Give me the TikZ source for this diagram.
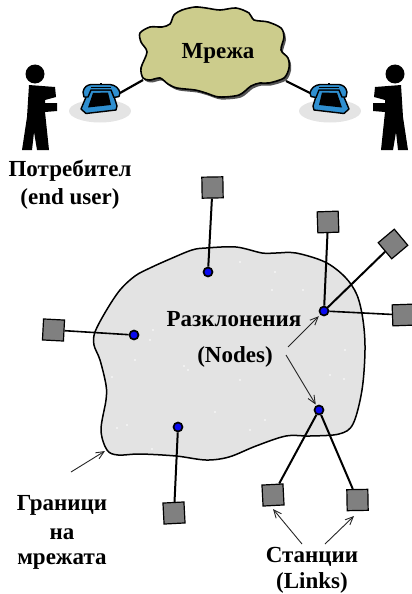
\documentclass[tikz,border=0pt]{standalone}
\usepackage{fontspec}
\setmainfont{Liberation Serif}
\usetikzlibrary{arrows.meta}
\definecolor{cloudfill}{HTML}{CCCC8C}
\definecolor{cloudshade}{HTML}{555555}
\definecolor{blobfill}{HTML}{E3E3E3}
\definecolor{phoneblue}{HTML}{2F8FD0}
\definecolor{padgrey}{HTML}{E4E4E4}
\definecolor{stationgrey}{HTML}{808080}
\definecolor{hubblue}{HTML}{0A0AF0}
\tikzset{
  label text/.style={font=\bfseries\fontsize{23}{26}\selectfont, inner sep=0pt, text=black},
  station/.style={draw=black, fill=stationgrey, line width=1.2pt, minimum size=21pt, inner sep=0pt, rectangle},
  hub/.style={draw=black, fill=hubblue, line width=1.7pt, circle, minimum size=9pt, inner sep=0pt},
  link/.style={line width=2pt, black},
  thin link/.style={line width=1.6pt, black},
  pointer/.style={line width=0.9pt, black!85, -{Straight Barb[length=8pt,width=7pt,line width=0.9pt]}},
  cable/.style={line width=2.2pt, black},
  outline curve/.style={smooth cycle, tension=0.5},
  pics/caller/.style={code={
    % person
    \fill[black] (35,74) circle (9.5);
    \fill[black] (29,85) -- (42,86) -- (55,87) -- (56,97) -- (45,100) -- (45,103) -- (57,103)
      -- (57,111) -- (45,112) -- (49,150) -- (37,150) -- (34,132) -- (32,150) -- (22,150)
      -- (27,117) -- cycle;
    % telephone on its shadow
    \fill[padgrey] (100,111) ellipse (31 and 11.5);
    \draw[black, line width=1.4pt, fill=phoneblue, line join=round]
      (89,90) -- (112,90) -- (117,106) -- (116,110) -- (86,113.5) -- (81,109) -- cycle;
    \draw[black, line width=1.4pt, fill=phoneblue, line join=round]
      (83,92) .. controls (84,87) and (87,85) .. (91,84.5) -- (110,84.5)
      .. controls (115,85) and (119,88) .. (120,93) -- (119,96.5) -- (114,97.5)
      -- (111,90) -- (91,90) -- (88,97) -- (84,97) -- cycle;
    \fill[black] (93,93) -- (108,92.5) -- (111,105) -- (88,107.5) -- cycle;
    \draw[black, line width=1pt] (91,87.5) -- (111,87.5);
    \draw[black, line width=1.2pt] (101,84.5) -- (101,82.5);
  }}
}
\begin{document}
\begin{tikzpicture}[x=1pt,y=-1pt]
\useasboundingbox (0,0) rectangle (412,594);

% cloud and its drop shadow
\fill[cloudshade, xshift=2pt, yshift=-2.5pt] plot[outline curve] coordinates {
  (147,52) (141,42) (140,33) (150,27) (162,27) (170,24) (174,15) (182,10) (195,7) (206,8)
  (220,10) (236,8) (249,13) (254,20) (268,22) (281,28) (284,37) (281,50) (288,58) (289,68)
  (284,78) (269,83) (260,83) (251,86) (239,95) (219,97) (206,93) (195,90) (177,88) (168,84)
  (160,78) (150,80) (143,78) (141,68)};
\draw[black, line width=1.6pt, fill=cloudfill] plot[outline curve] coordinates {
  (147,52) (141,42) (140,33) (150,27) (162,27) (170,24) (174,15) (182,10) (195,7) (206,8)
  (220,10) (236,8) (249,13) (254,20) (268,22) (281,28) (284,37) (281,50) (288,58) (289,68)
  (284,78) (269,83) (260,83) (251,86) (239,95) (219,97) (206,93) (195,90) (177,88) (168,84)
  (160,78) (150,80) (143,78) (141,68)};
\node[label text] (net) at (218,53) {Мрежа};

% callers, the right one mirrored about x=215
\pic at (0,0) {caller};
\begin{scope}[xshift=430pt, xscale=-1]
  \pic[transform shape] at (0,0) {caller};
\end{scope}
\coordinate (cloudL) at (143,80);
\coordinate (phoneL) at (120,93);
\coordinate (cloudR) at (286,81);
\coordinate (phoneR) at (310,93);
\draw[cable] (cloudL) -- (phoneL);
\draw[cable] (cloudR) -- (phoneR);

\node[label text] (user) at (70,171) {Потребител};
\node[label text] (userEn) at (70,199) {(end user)};

% network boundary
\draw[black, line width=1.5pt, fill=blobfill] plot[smooth cycle, tension=0.55] coordinates {
  (95,332) (106,311) (120,290) (135,276) (150,268) (170,259) (192,250) (206,248) (236,247)
  (262,253) (276,253) (296,253) (325,262) (345,277) (357,295) (363,320) (365,350) (362,390)
  (353,424) (339,434) (310,436) (286,436) (256,446) (229,457) (206,460) (176,456) (140,454)
  (118,455) (107,450) (101,430) (106,400) (106,385) (100,360) (94,345)};

% paper grain on the network area
\foreach \gx/\gy in {153/330,150/340,135/360,112/377,188/370,275/272,240/262,272/290,303/290,
  240/380,250/430,345/350,344/379,330/375,215/412,265/420,127/425,117/428,152/449,184/366}
  \fill[white] (\gx,\gy) circle (0.8);

% hubs
\node[hub] (h1) at (208,272) {};
\node[hub] (h2) at (134,335) {};
\node[hub] (h3) at (324,311) {};
\node[hub] (h4) at (319,410) {};
\node[hub] (h5) at (178,427) {};

% stations
\node[station, rotate=1] (s1) at (212.5,187.5) {};
\node[station, rotate=-3] (s2) at (53.5,330) {};
\node[station, rotate=2] (s3) at (328,222) {};
\node[station, rotate=40] (s4) at (393,244) {};
\node[station, rotate=2] (s5) at (403,315) {};
\node[station, rotate=3] (s6) at (174,513) {};
\node[station, rotate=3] (s7) at (273,495) {};
\node[station, rotate=1] (s8) at (357.5,500) {};

% station links
\draw[link] (s1) -- (h1);
\draw[thin link] (s2) -- (h2);
\draw[link] (s3) -- (h3);
\draw[link] (s4) -- (h3);
\draw[thin link] (s5) -- (h3);
\draw[link] (s6) -- (h5);
\draw[link] (s7) -- (h4);
\draw[link] (s8) -- (h4);

% captions
\node[label text] (nodesBg) at (234,319) {Разклонения};
\node[label text] (nodesEn) at (235,357) {(Nodes)};
\node[label text] (edge1) at (62,505) {Граници};
\node[label text] (edge2) at (62,534) {на};
\node[label text] (edge3) at (62,562) {мрежата};
\node[label text] (linksBg) at (312,557) {Станции};
\node[label text] (linksEn) at (312,583) {(Links)};

% pointers from captions
\coordinate (p1) at (288,347);
\coordinate (p2) at (286,355);
\coordinate (p3) at (71,472);
\coordinate (p4) at (302,544);
\coordinate (p5) at (325,544);
\coordinate (t3) at (105,451);
\coordinate (t4) at (273,509);
\coordinate (t5) at (354,516);
\draw[pointer, shorten >=2pt] (p1) -- (h3);
\draw[pointer, shorten >=1pt] (p2) -- (h4);
\draw[pointer] (p3) -- (t3);
\draw[pointer] (p4) -- (t4);
\draw[pointer] (p5) -- (t5);
\end{tikzpicture}
\end{document}
